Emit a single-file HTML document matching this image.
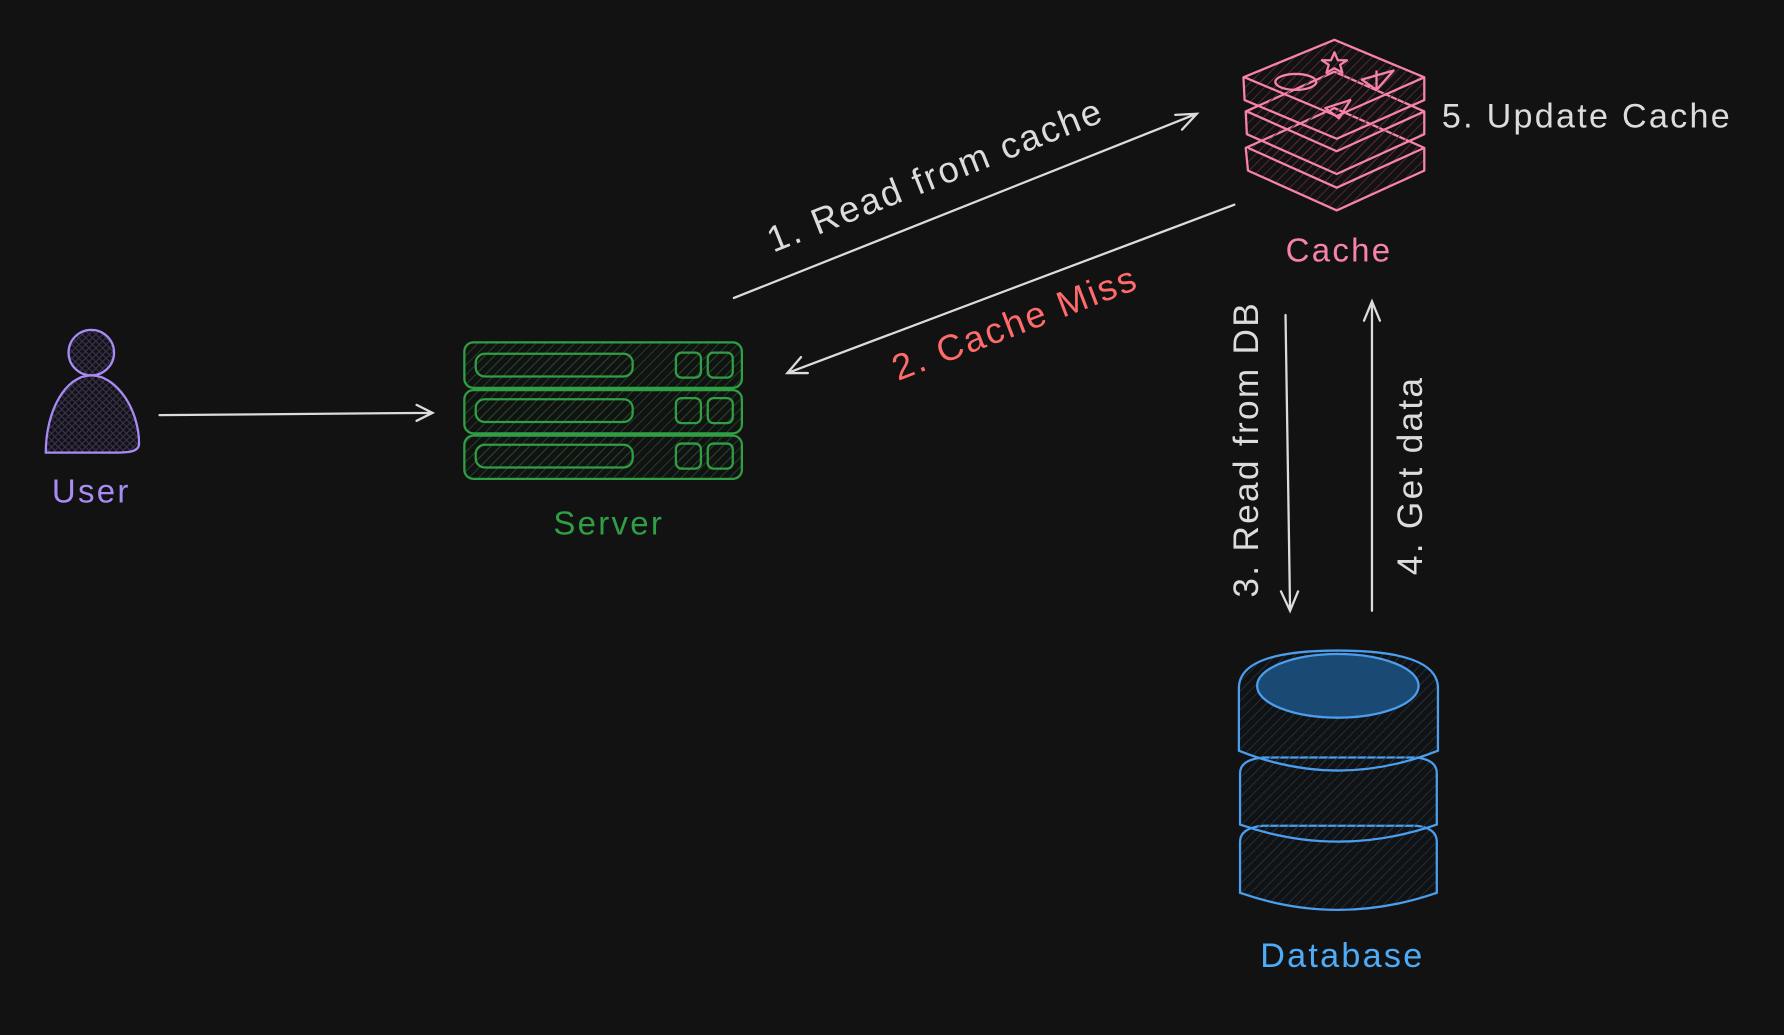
<!DOCTYPE html>
<html><head><meta charset="utf-8"><style>
html,body{margin:0;padding:0;background:#121212;}
svg{display:block}
text{font-family:"Liberation Sans",sans-serif;letter-spacing:2px;}
</style></head><body>
<svg width="1784" height="1035" viewBox="0 0 1568 910" xmlns="http://www.w3.org/2000/svg">
<defs>
<pattern id="hp" width="6" height="6" patternUnits="userSpaceOnUse" patternTransform="rotate(45)"><line x1="0" y1="0" x2="0" y2="6" stroke="#5a2a3a" stroke-width="1.5"/></pattern>
<pattern id="hg" width="6" height="6" patternUnits="userSpaceOnUse" patternTransform="rotate(45)"><line x1="0" y1="0" x2="0" y2="6" stroke="#1f4a28" stroke-width="1.5"/></pattern>
<pattern id="hb" width="6" height="6" patternUnits="userSpaceOnUse" patternTransform="rotate(45)"><line x1="0" y1="0" x2="0" y2="6" stroke="#1a3550" stroke-width="1.5"/></pattern>
<pattern id="hu" width="6" height="6" patternUnits="userSpaceOnUse"><path d="M0 0L6 6M6 0L0 6" stroke="#3a3050" stroke-width="1"/></pattern>
</defs>
<rect width="1568" height="910" fill="#121212"/>
<g stroke="#a98bf5" stroke-width="2" fill="url(#hu)">
<circle cx="80" cy="310" r="20"/>
<path d="M40 398 C40 360 58 330 80 330 C102 330 122 360 122 390 C122 398 110 398 100 398 Z"/>
</g>
<text x="80" y="442" fill="#a98bf5" font-size="29" text-anchor="middle">User</text>
<g stroke="#dcdcdc" stroke-width="2" fill="none" stroke-linecap="round">
<path d="M140 365 L380 363 M366 356 L380 363 L366 370"/>
<path d="M645 262 L1052 100 M1033 101 L1052 100 L1039 114"/>
<path d="M1085 180 L692 328 M704 314 L692 328 L710 328"/>
<path d="M1130 277 L1134 537 M1126 520 L1134 537 L1141 520"/>
<path d="M1206 537 L1206 265 M1199 282 L1206 265 L1213 282"/>
</g>
<g stroke="#2f9e44" stroke-width="2" fill="url(#hg)">
<rect x="408" y="301" width="244" height="40" rx="8"/>
<rect x="408" y="343" width="244" height="38" rx="8"/>
<rect x="408" y="383" width="244" height="38" rx="8"/>
<rect x="418" y="311" width="138" height="20" rx="8"/><rect x="594" y="310" width="22" height="22" rx="5"/><rect x="622" y="310" width="22" height="22" rx="5"/>
<rect x="418" y="351" width="138" height="20" rx="8"/><rect x="594" y="350" width="22" height="22" rx="5"/><rect x="622" y="350" width="22" height="22" rx="5"/>
<rect x="418" y="391" width="138" height="20" rx="8"/><rect x="594" y="390" width="22" height="22" rx="5"/><rect x="622" y="390" width="22" height="22" rx="5"/>
</g>
<text x="535" y="470" fill="#2f9e44" font-size="29" text-anchor="middle">Server</text>
<g stroke="#f783ac" stroke-width="2" fill="url(#hp)" stroke-linejoin="round">
<path d="M1095 130 L1173 95 L1252 130 L1252 150 L1175 185 L1097 150 Z"/>
<path d="M1097 130 L1175 165 L1252 130"/>
<path d="M1095 98 L1173 63 L1252 98 L1252 118 L1175 153 L1096 118 Z"/>
<path d="M1096 98 L1175 133 L1252 98"/>
<path d="M1093 68 L1173 35 L1252 68 L1252 88 L1175 122 L1094 88 Z"/>
<path d="M1094 68 L1175 102 L1252 68"/>
<ellipse cx="1139" cy="72" rx="18" ry="7" fill="none"/>
<path d="M1165 95 L1187 88 L1177 104 Z" fill="none"/>
<path d="M1197 70 L1225 62 L1210 79 Z M1210 62 L1210 79" fill="none"/>
<path d="M1173 46 L1176 53 L1184 53 L1178 57 L1180 64 L1173 60 L1166 64 L1168 57 L1162 53 L1170 53 Z" fill="none"/>
</g>
<text x="1177" y="230" fill="#f783ac" font-size="29" text-anchor="middle">Cache</text>
<text x="1395" y="112" fill="#dcdcdc" font-size="30" text-anchor="middle">5. Update Cache</text>
<g stroke="#4a9eed" stroke-width="2" fill="url(#hb)">
<path d="M1090 740 Q1090 728 1110 726 L1245 726 Q1263 728 1263 740 L1263 785 Q1176 815 1090 785 Z"/>
<path d="M1090 680 Q1090 668 1110 666 L1245 666 Q1263 668 1263 680 L1263 725 Q1176 755 1090 725 Z"/>
<path d="M1089 605 Q1089 572 1176 572 Q1264 572 1264 605 L1264 660 Q1176 695 1089 660 Z"/>
<ellipse cx="1176" cy="603" rx="71" ry="28" fill="#1a4a73"/>
</g>
<text x="1180" y="850" fill="#4dabf7" font-size="30" text-anchor="middle">Database</text>
<text transform="translate(826,164) rotate(-21.7)" fill="#dcdcdc" font-size="32" text-anchor="middle">1. Read from cache</text>
<text transform="translate(896,294) rotate(-21)" fill="#ff6b6b" font-size="32" text-anchor="middle">2. Cache Miss</text>
<text transform="translate(1106,395) rotate(-90)" fill="#dcdcdc" font-size="31" text-anchor="middle">3. Read from DB</text>
<text transform="translate(1250,418) rotate(-90)" fill="#dcdcdc" font-size="31" text-anchor="middle">4. Get data</text>
</svg>
</body></html>
